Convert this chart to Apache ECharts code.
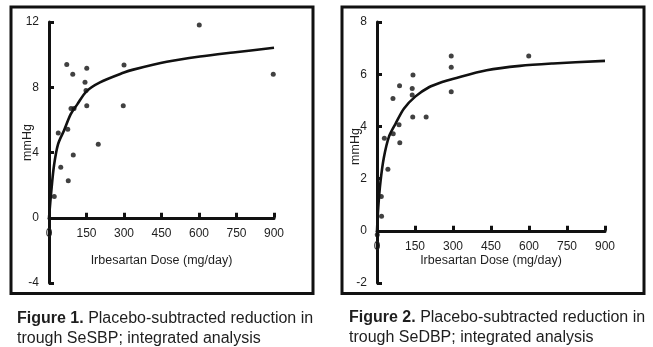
<!DOCTYPE html>
<html>
<head>
<meta charset="utf-8">
<title>Irbesartan dose response</title>
<script src="https://cdn.jsdelivr.net/npm/echarts@6/dist/echarts.min.js"></script>
<style>
  html, body { margin: 0; padding: 0; background: #ffffff; }
  #chart { width: 653px; height: 347px; }
</style>
</head>
<body>
<div id="chart"></div>
<script>
// Dose axis ticks (mg/day)
const doseTicks = [0, 150, 300, 450, 600, 750, 900];

// Figure 1: trough SeSBP, placebo-subtracted reduction (mmHg)
const sbpTicks = [-4, 0, 4, 8, 12];
const sbpDose = [21, 47, 37, 71, 77, 75, 95, 97, 88, 100, 144, 148, 151, 151, 197, 300, 297, 601, 897];
const sbpReduction = [1.3, 3.1, 5.2, 9.4, 2.27, 5.43, 8.8, 3.84, 6.7, 6.7, 8.3, 7.8, 9.17, 6.87, 4.5, 9.37, 6.86, 11.82, 8.8];
const sbpCurveDose = [0, 9, 20, 36, 60, 87, 113, 150, 204, 300, 337, 471, 604, 737, 900];
const sbpCurveReduction = [0, 1.6, 3.2, 4.5, 5.35, 6.35, 6.95, 7.75, 8.3, 8.9, 9.08, 9.56, 9.88, 10.13, 10.42];

// Figure 2: trough SeDBP, placebo-subtracted reduction (mmHg)
const dbpTicks = [-2, 0, 2, 4, 6, 8];
const dbpDose = [1, 18, 17, 29, 43, 63, 64, 89, 87, 90, 142, 139, 139, 141, 194, 293, 293, 293, 599, 902];
const dbpReduction = [-0.15, 0.56, 1.31, 3.55, 2.36, 5.07, 3.72, 5.56, 4.06, 3.37, 5.97, 5.45, 5.2, 4.36, 4.36, 6.7, 6.27, 5.33, 6.7, 5.77];
const dbpCurveDose = [0, 5, 14, 27, 47, 73, 106, 152, 205, 257, 302, 433, 564, 695, 900];
const dbpCurveReduction = [0, 0.9, 1.9, 2.8, 3.6, 4.1, 4.68, 5.15, 5.5, 5.7, 5.83, 6.15, 6.32, 6.41, 6.51];

const captions = [
  ['Figure 1.', 'Placebo-subtracted reduction in', 'trough SeSBP; integrated analysis'],
  ['Figure 2.', 'Placebo-subtracted reduction in', 'trough SeDBP; integrated analysis']
];

const xName = 'Irbesartan Dose (mg/day)';
const yName = 'mmHg';

const zip = (xs, ys) => xs.map((x, i) => [x, ys[i]]);

const INK = '#111111';
const TEXT = '#1e1e1e';
const FONT = '"Liberation Sans", Arial, sans-serif';

const GRID_TOP = 22;
const GRID_HEIGHT = 261;

// Lift the dose axis from the grid bottom up to the zero line of the value axis
function zeroOffset(ticks) {
  const lo = ticks[0], hi = ticks[ticks.length - 1];
  return -GRID_HEIGHT * (0 - lo) / (hi - lo);
}

function makeXAxis(gridIndex, yTicks, nameGap) {
  return {
    gridIndex: gridIndex,
    type: 'value',
    position: 'bottom',
    offset: zeroOffset(yTicks),
    min: doseTicks[0],
    max: doseTicks[doseTicks.length - 1],
    interval: doseTicks[1] - doseTicks[0],
    name: xName,
    nameLocation: 'middle',
    nameGap: nameGap,
    nameMoveOverlap: false,
    nameTextStyle: { color: TEXT, fontSize: 12.5, fontFamily: FONT },
    axisLine: { show: true, onZero: false, lineStyle: { color: INK, width: 3 } },
    axisTick: { show: true, inside: true, length: 5, lineStyle: { color: INK, width: 3 } },
    axisLabel: { color: TEXT, fontSize: 12, fontFamily: FONT, margin: 10, showMinLabel: true, showMaxLabel: true },
    splitLine: { show: false }
  };
}

function makeYAxis(gridIndex, ticks, shiftUp) {
  return {
    gridIndex: gridIndex,
    type: 'value',
    min: ticks[0],
    max: ticks[ticks.length - 1],
    interval: ticks[1] - ticks[0],
    name: yName,
    nameLocation: 'middle',
    nameGap: 15,
    nameRotate: 90,
    nameMoveOverlap: false,
    nameTextStyle: { color: TEXT, fontSize: 12.5, fontFamily: FONT, padding: [0, 0, 0, shiftUp * 2] },
    axisLine: { show: true, onZero: false, lineStyle: { color: INK, width: 3 } },
    axisTick: { show: true, inside: true, length: 5, lineStyle: { color: INK, width: 3 } },
    axisLabel: { color: TEXT, fontSize: 12, fontFamily: FONT, margin: 10 },
    splitLine: { show: false }
  };
}

function captionTitle(lines, left, top) {
  return {
    left: left,
    top: top,
    padding: 0,
    text: '{b|' + lines[0] + '} ' + lines[1] + '\n' + lines[2],
    textStyle: {
      color: TEXT,
      fontSize: 16,
      fontWeight: 'normal',
      fontFamily: FONT,
      lineHeight: 19.5,
      rich: {
        b: { fontWeight: 'bold', fontSize: 16, fontFamily: FONT, color: TEXT, lineHeight: 19.5 }
      }
    }
  };
}

const chart = echarts.init(document.getElementById('chart'), null, { renderer: 'canvas' });

chart.setOption({
  backgroundColor: '#ffffff',
  animation: false,
  title: [
    captionTitle(captions[0], 17, 309),
    captionTitle(captions[1], 349, 308)
  ],
  graphic: [
    { type: 'rect', shape: { x: 11, y: 7, width: 302, height: 286.5 }, style: { fill: 'none', stroke: INK, lineWidth: 3 }, silent: true },
    { type: 'rect', shape: { x: 342, y: 7, width: 302, height: 286.5 }, style: { fill: 'none', stroke: INK, lineWidth: 3 }, silent: true }
  ],
  grid: [
    { left: 49, top: GRID_TOP, width: 225, height: GRID_HEIGHT },
    { left: 377, top: GRID_TOP, width: 228, height: GRID_HEIGHT }
  ],
  xAxis: [makeXAxis(0, sbpTicks, 36), makeXAxis(1, dbpTicks, 23)],
  yAxis: [makeYAxis(0, sbpTicks, 10), makeYAxis(1, dbpTicks, 6)],
  series: [
    {
      type: 'scatter', xAxisIndex: 0, yAxisIndex: 0,
      data: zip(sbpDose, sbpReduction),
      symbol: 'circle', symbolSize: 5,
      itemStyle: { color: INK }
    },
    {
      type: 'line', xAxisIndex: 0, yAxisIndex: 0,
      data: zip(sbpCurveDose, sbpCurveReduction),
      smooth: 0.3, showSymbol: false,
      lineStyle: { color: INK, width: 2.6 }
    },
    {
      type: 'scatter', xAxisIndex: 1, yAxisIndex: 1,
      data: zip(dbpDose, dbpReduction),
      symbol: 'circle', symbolSize: 5,
      itemStyle: { color: INK }
    },
    {
      type: 'line', xAxisIndex: 1, yAxisIndex: 1,
      data: zip(dbpCurveDose, dbpCurveReduction),
      smooth: 0.3, showSymbol: false,
      lineStyle: { color: INK, width: 2.6 }
    }
  ]
});
</script>
</body>
</html>
